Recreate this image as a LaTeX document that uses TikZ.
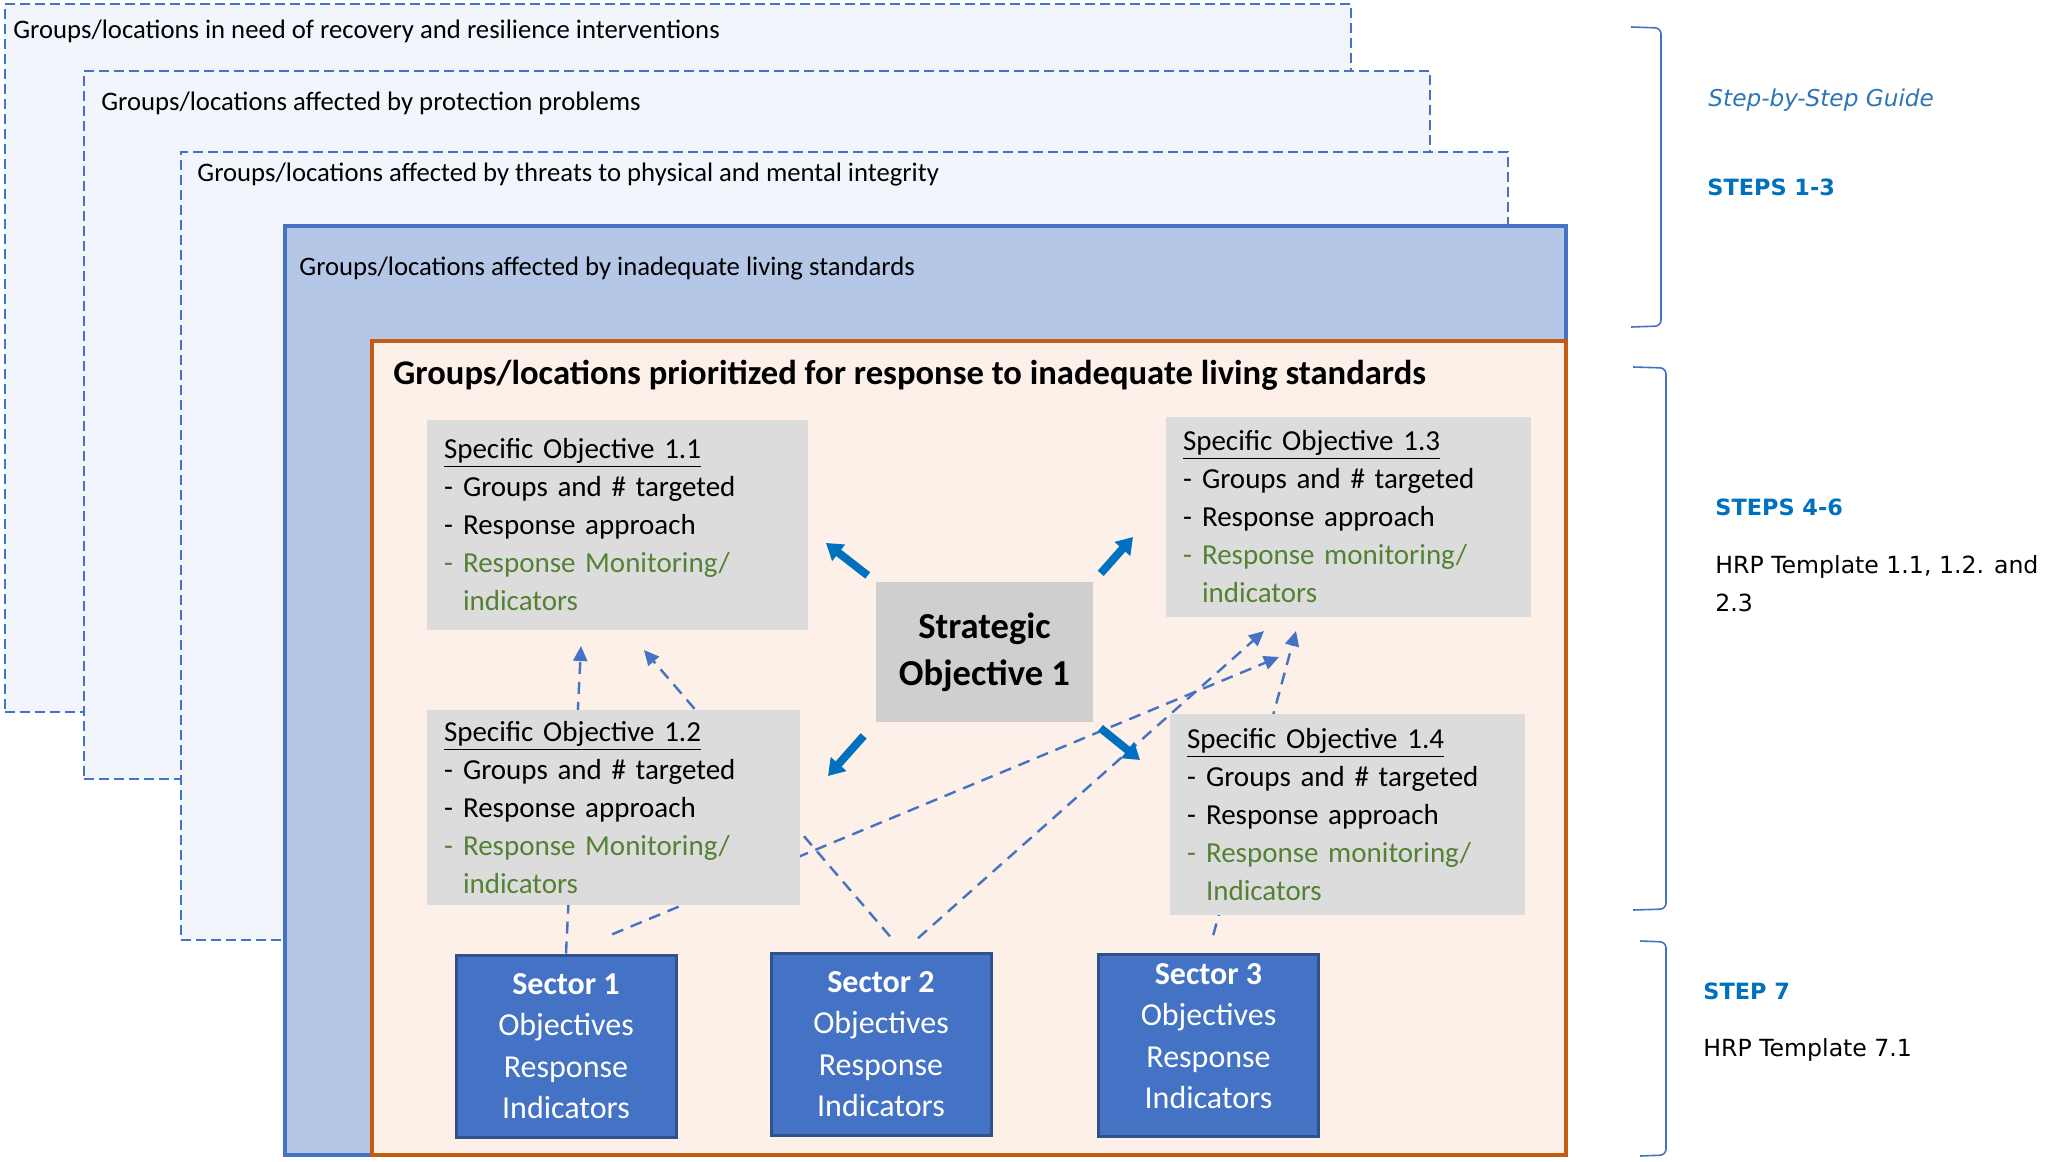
\documentclass[tikz,border=0pt]{standalone}
\usepackage{fontspec}
\setmainfont{Carlito}
\newfontfamily\guidefont{DejaVu Sans}
\usetikzlibrary{arrows.meta,positioning}
\definecolor{layerblue}{RGB}{68,114,196}
\definecolor{layerfill}{RGB}{242,246,252}
\definecolor{livingfill}{RGB}{180,199,231}
\definecolor{prioorange}{RGB}{197,90,17}
\definecolor{priofill}{RGB}{253,240,232}
\definecolor{sogray}{RGB}{221,220,220}
\definecolor{stratgray}{RGB}{208,206,206}
\definecolor{sectoredge}{RGB}{47,82,143}
\definecolor{arrowblue}{RGB}{0,112,192}
\definecolor{monitgreen}{RGB}{84,130,53}
\definecolor{guideblue}{RGB}{46,117,182}

\newcommand{\dashitem}{\makebox[9.5pt][l]{-}}
\newcommand{\hangitem}{\hspace*{9.5pt}}

\begin{document}
\begin{tikzpicture}[x=0.5pt, y=-0.5pt,
  layer/.style={draw=layerblue, line width=1pt, dash pattern=on 5pt off 2.5pt, fill=layerfill, inner sep=0pt},
  layertext/.style={anchor=west, inner sep=0pt, font=\fontsize{13.35}{16}\selectfont},
  objbox/.style={fill=sogray, align=left, inner xsep=8.5pt, inner ysep=4pt, font=\fontsize{14.5}{19}\selectfont},
  stratbox/.style={fill=stratgray, align=center, minimum width=108.5pt, minimum height=70pt, font=\fontsize{18.3}{23.5}\selectfont\bfseries},
  sectorbox/.style={fill=layerblue, draw=sectoredge, line width=1.5pt, text=white, align=center, minimum width=110pt, minimum height=91pt, inner sep=0pt, font=\fontsize{16}{20.7}\selectfont},
  link/.style={draw=layerblue, line width=1.2pt, dash pattern=on 6pt off 4pt, -{Triangle[length=7.5pt,width=7pt]}},
  bigarrow/.style={draw=arrowblue, line width=4pt, -{Triangle[length=8pt,width=10pt]}},
  bracket/.style={draw=layerblue, line width=0.8pt, rounded corners=3pt},
  steptext/.style={anchor=west, inner sep=0pt, text=arrowblue, font=\guidefont\fontsize{11.2}{14}\selectfont\bfseries},
  hrptext/.style={anchor=west, inner sep=0pt, align=left, font=\guidefont\fontsize{11.8}{19}\selectfont}]
  \useasboundingbox (0,0) rectangle (2049,1161);

  % nested groups
  \node[layer, minimum width=673pt, minimum height=354pt] (recovery) at (678,358) {};
  \node[layertext] (recoverytxt) at (13,31) {Groups/locations in need of recovery and resilience interventions};
  \node[layer, minimum width=673pt, minimum height=354pt] (protection) at (757,425) {};
  \node[layertext] (protectiontxt) at (101,103) {Groups/locations affected by protection problems};
  \node[layer, minimum width=663.5pt, minimum height=394pt] (threats) at (844.5,546) {};
  \node[layertext] (threatstxt) at (197,175) {Groups/locations affected by threats to physical and mental integrity};
  \node[draw=layerblue, line width=2pt, fill=livingfill, minimum width=640.5pt, minimum height=464.5pt, inner sep=0pt] (living) at (925.5,690.5) {};
  \node[layertext] (livingtxt) at (299,269) {Groups/locations affected by inadequate living standards};
  \node[draw=prioorange, line width=2pt, fill=priofill, minimum width=597pt, minimum height=407pt, inner sep=0pt] (prio) at (969,748) {};
  \node[layertext, font=\fontsize{17.3}{20}\selectfont\bfseries] (priotxt) at (393,375) {Groups/locations prioritized for response to inadequate living standards};

  % sectors
  \node[sectorbox] (sec1) at (566,1046) {\textbf{Sector 1}\\Objectives\\Response\\Indicators};
  \node[sectorbox] (sec2) at (881,1044) {\textbf{Sector 2}\\Objectives\\Response\\Indicators};
  \node[sectorbox, text depth=9pt] (sec3) at (1208.5,1045) {\textbf{Sector 3}\\Objectives\\Response\\Indicators};

  % dashed links from sectors
  \coordinate (tipA) at (581,646);
  \coordinate (tipB) at (1279,657);
  \coordinate (tipC) at (644,650);
  \coordinate (tipD) at (1264,631);
  \coordinate (tipE) at (1296,631);
  \draw[link] (sec1.north) -- (tipA);
  \draw[link, shorten <=25pt] (sec1.north) -- (tipB);
  \draw[link, shorten <=10pt] ([xshift=11pt]sec2.north) -- (tipC);
  \draw[link, shorten <=10pt] ([xshift=11pt]sec2.north) -- (tipD);
  \draw[link, shorten <=9pt] (sec3.north) -- (tipE);

  % specific objectives
  \node[objbox, text width=173.5pt, minimum height=105pt] (so11) at (617.5,525) {\underline{Specific Objective 1.1}\\\dashitem Groups and \# targeted\\\dashitem Response approach\\\textcolor{monitgreen}{\dashitem Response Monitoring/}\\\textcolor{monitgreen}{\hangitem indicators}};
  \node[objbox, text width=169.5pt, minimum height=97.5pt] (so12) at (613.5,807.5) {\underline{Specific Objective 1.2}\\\dashitem Groups and \# targeted\\\dashitem Response approach\\\textcolor{monitgreen}{\dashitem Response Monitoring/}\\\textcolor{monitgreen}{\hangitem indicators}};
  \node[objbox, text width=165.5pt, minimum height=100pt] (so13) at (1348.5,517) {\underline{Specific Objective 1.3}\\\dashitem Groups and \# targeted\\\dashitem Response approach\\\textcolor{monitgreen}{\dashitem Response monitoring/}\\\textcolor{monitgreen}{\hangitem indicators}};
  \node[objbox, text width=160.5pt, minimum height=100.5pt] (so14) at (1347.5,814.5) {\underline{Specific Objective 1.4}\\\dashitem Groups and \# targeted\\\dashitem Response approach\\\textcolor{monitgreen}{\dashitem Response monitoring/}\\\textcolor{monitgreen}{\hangitem Indicators}};

  % strategic objective
  \node[stratbox] (strat) at (984.5,652) {Strategic\\Objective 1};
  \coordinate (head11) at (826,543);
  \coordinate (head13) at (1133,537);
  \coordinate (head12) at (828,776);
  \coordinate (head14) at (1140,760);
  \draw[bigarrow, shorten <=5pt] (strat.north west) -- (head11);
  \draw[bigarrow, shorten <=5.5pt] (strat.north east) -- (head13);
  \draw[bigarrow, shorten <=9pt] (strat.south west) -- (head12);
  \draw[bigarrow, shorten <=4.5pt] (strat.south east) -- (head14);

  % steps guide
  \draw[bracket] (1631,27) -- (1661,28) -- (1661,326) -- (1631,327);
  \draw[bracket] (1633,367) -- (1666,368) -- (1666,909) -- (1633,910);
  \draw[bracket] (1640,941) -- (1666,942) -- (1666,1155) -- (1640,1156);
  \node[anchor=west, inner sep=0pt, text=guideblue, font=\guidefont\fontsize{11.6}{14}\selectfont\itshape] (guide) at (1708,100) {Step-by-Step Guide};
  \node[steptext] (steps13) at (1707,187) {STEPS 1-3};
  \node[steptext] (steps46) at (1715,507) {STEPS 4-6};
  \node[hrptext, anchor=north west] (hrp1) at (1715,555) {HRP Template 1.1, 1.2. and\\2.3};
  \node[steptext] (step7) at (1703,991) {STEP 7};
  \node[hrptext] (hrp7) at (1703,1050) {HRP Template 7.1};
\end{tikzpicture}
\end{document}
